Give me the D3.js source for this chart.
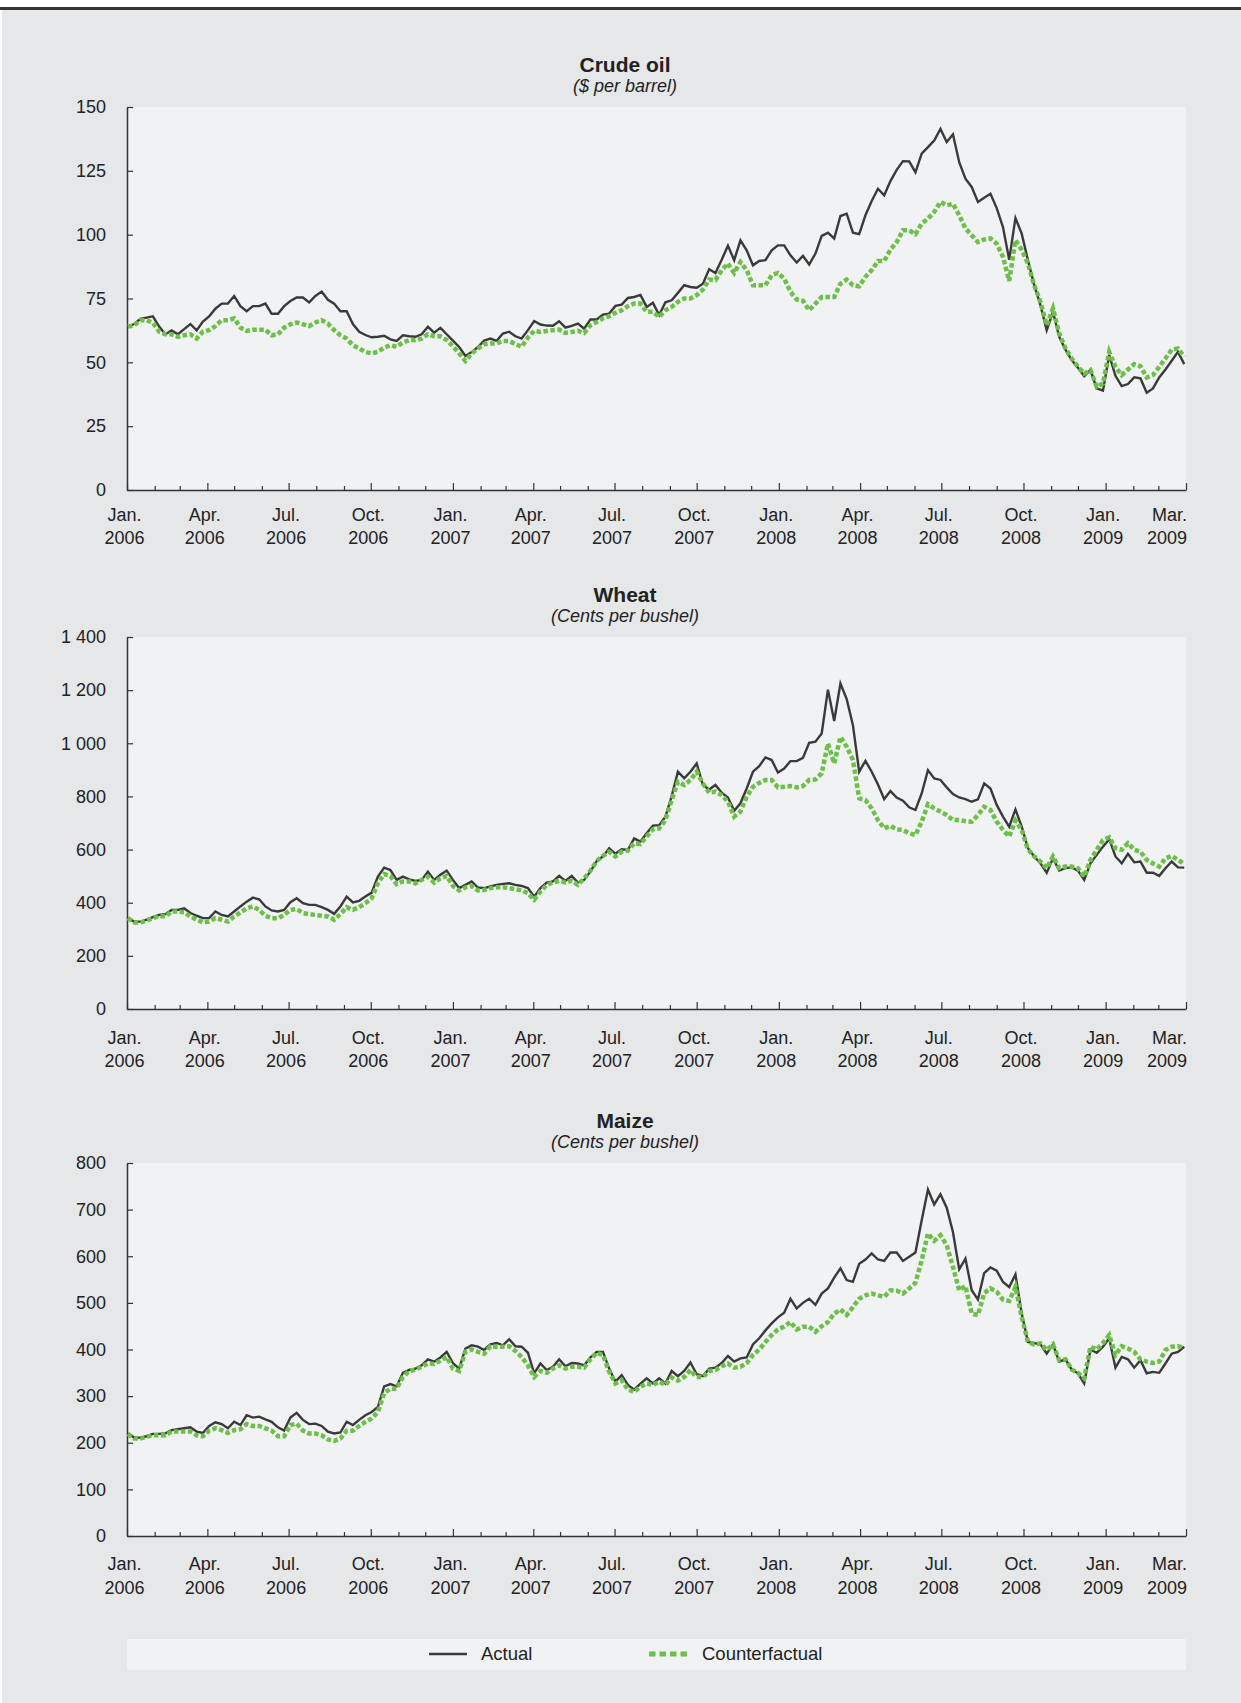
<!DOCTYPE html>
<html>
<head>
<meta charset="utf-8">
<script src="https://cdn.jsdelivr.net/npm/d3@7"></script>
<style>
  html, body { margin: 0; padding: 0; background: #ffffff; }
  svg { display: block; }
  text { font-family: "Liberation Sans", Arial, sans-serif; fill: #222; }
</style>
</head>
<body>
<script>
// ---------------- DATA ----------------
// Weekly observations, first one on 2006-01-02, one week apart.
const firstWeek = "2006-01-02";

const crudeActual = [
  64,65,67,67.5,68,64,61,62.5,61,63,
  65,62.5,66,68,71,73,73,76,72,70,
  72,72,73,69,69,72,74,75.4,75.4,73.5,
  76,77.7,74.5,73,70,70,65,62,60.7,59.8,
  60,60.4,59,58.4,60.6,60.2,60,61,63.9,61.6,
  63.5,61,58.5,56,52.5,54,56,58.5,59.3,58.4,
  61.3,62,60.2,59.3,62.6,66.2,64.8,64.4,64.3,66.1,
  63.6,64.3,65.2,63.2,66.8,66.8,68.7,69.1,72.1,72.6,
  75.2,75.6,76.4,71.7,73.3,68.5,73.5,74.3,77.2,80.2,
  79.5,79.2,80.8,86.5,85,90.2,95.7,90,97.8,93.9,
  88,89.7,90,93.9,95.8,95.8,91.9,89.1,91.7,88.3,
  92.6,99.5,100.8,98.5,107.3,108.2,100.8,100.2,107.6,113.2,
  118,115.4,121,125.4,128.8,128.7,124.4,131.7,134.3,136.9,
  141.4,136.3,139.3,128.4,121.9,118.7,112.8,114.5,116,110.4,
  103,90.2,106.5,100.4,90,80.2,72.4,62.6,69.8,60,
  55,50.9,47.9,44.6,47,39.8,38.9,52.8,44.7,40.7,
  41.5,44.1,43.7,38.1,39.8,44.1,47.2,50.6,54.1,49.3
];
const crudeCounter = [
  64,64.5,66.5,66.5,65.5,62,61,61,60,60.6,
  61,59.3,62,62.6,64.2,66.5,66.5,67.2,63.6,62.3,
  62.8,62.8,62.8,60.6,60.9,63.6,64.9,65.6,64.9,64.2,
  65.6,66.5,65.2,62.6,60.6,59.3,56.7,55.4,54.1,53.5,
  54.1,55.8,56.7,56.1,57.8,58.7,58.7,59.3,61,60.2,
  60.2,58.7,56.3,53.5,50.5,53.5,55.4,57.1,57.4,57.4,
  58.4,58.4,57.1,56.1,59.7,62.3,61.9,62.3,62.6,62.8,
  61.5,61.9,62.3,61.5,64.5,65.8,67.2,68.1,69.4,70.4,
  72,73,73,69.8,69.8,67.8,70.4,71.7,73.7,75,
  75,76.3,78.5,82.4,82.2,86.1,88.7,85,89.3,86.1,
  80.2,80.2,80.2,84.1,85,82.8,77.6,74.6,74.1,70.4,
  73,75.6,75.6,75.6,80.8,82.4,80.2,79.8,83.5,86.1,
  89.7,89.7,94.1,97.1,101.7,101.7,100.2,104.3,106.3,108.9,
  112.8,111.5,112.1,107.6,102.4,99.8,97.1,98.1,98.5,96.5,
  91.3,81.9,97.8,94.1,88.7,80.2,73.7,64.5,71.1,61.3,
  55.4,51.5,48.2,45.6,47,40.4,41.7,54.1,48.2,45,
  47.2,49.3,48.5,44.1,45,48.2,51.5,55,55.4,52.2
];
const wheatActual = [
  342,329,329,336,346,354,357,373,373,379,
  361,351,342,342,367,354,348,367,386,404,
  419,413,386,371,367,373,402,417,398,392,
  392,383,373,358,386,423,401,407,423,438,
  498,532,523,486,498,488,482,486,517,486,
  505,521,486,455,467,480,457,455,461,467,
  471,473,467,463,455,423,455,476,480,501,
  482,501,476,486,517,557,574,605,584,601,
  599,642,630,661,690,692,724,801,893,868,
  893,924,843,826,843,814,796,746,774,830,
  893,914,947,937,890,905,933,933,945,1002,
  1006,1037,1202,1084,1225,1166,1068,893,934,893,
  845,790,820,796,784,759,749,811,899,868,
  862,834,809,796,790,780,789,849,830,768,
  724,686,751,686,605,574,548,513,567,521,
  530,533,521,486,548,580,611,639,574,548,
  584,552,555,513,513,501,530,555,533,532
];
const wheatCounter = [
  342,326,326,333,342,351,348,367,367,364,
  348,336,326,329,342,336,329,348,363,379,
  386,373,351,342,342,354,373,376,361,357,
  354,351,348,336,357,383,373,383,398,417,
  473,508,501,470,480,480,473,486,498,476,
  492,501,463,446,458,463,446,448,455,458,
  458,455,451,446,436,411,442,467,476,483,
  476,483,467,492,521,557,576,592,574,592,
  596,624,621,649,676,680,711,786,855,843,
  862,893,849,814,818,805,780,724,743,799,
  836,851,862,862,834,836,839,834,839,862,
  864,887,999,924,1024,987,937,793,786,755,
  711,680,689,676,674,661,655,705,771,755,
  743,730,711,711,707,705,730,761,749,705,
  674,649,709,674,601,574,555,530,574,530,
  536,536,530,498,561,599,636,646,605,599,
  624,599,592,561,548,536,567,576,561,546
];
const maizeActual = [
  220,211,211,214,219,219,220,227,229,231,
  233,224,221,236,244,240,231,245,238,259,
  254,256,250,245,233,226,254,264,249,240,
  241,236,224,220,222,245,238,249,259,266,
  277,321,326,321,350,356,359,366,379,374,
  383,395,371,359,402,409,406,399,411,414,
  409,422,407,406,393,349,370,356,363,379,
  364,371,370,366,383,395,395,359,331,345,
  324,314,327,338,327,338,327,354,343,354,
  372,347,343,359,361,371,386,374,381,383,
  411,424,441,456,469,479,509,488,500,509,
  496,520,531,554,574,549,545,584,593,606,
  593,590,608,608,590,599,608,677,743,711,
  733,704,652,572,595,527,507,564,576,569,
  545,534,561,477,416,414,411,391,411,374,
  379,357,349,327,400,393,406,424,361,384,
  379,361,377,349,352,350,370,391,395,406
];
const maizeCounter = [
  219,209,209,213,216,216,216,224,224,224,
  224,216,214,226,231,227,221,227,229,240,
  236,236,231,226,214,214,238,241,226,220,
  220,216,207,204,209,226,226,236,245,252,
  266,306,316,316,341,354,357,363,370,369,
  376,384,359,354,395,400,395,391,407,406,
  406,407,397,384,366,341,354,350,359,366,
  359,363,363,361,379,393,388,352,327,334,
  314,309,320,327,324,331,324,340,333,341,
  356,341,341,354,356,364,370,361,363,371,
  388,400,416,431,443,449,459,443,449,449,
  438,450,459,477,486,474,491,509,516,520,
  516,513,527,526,520,531,543,591,649,633,
  645,624,577,527,536,477,474,521,531,524,
  507,504,534,470,416,411,413,399,411,377,
  379,357,350,338,406,400,414,431,388,407,
  402,395,379,374,371,374,399,406,407,404
];

const crudeTicks = [0, 25, 50, 75, 100, 125, 150];
const wheatTicks = [0, 200, 400, 600, 800, 1000, 1200, 1400];
const maizeTicks = [0, 100, 200, 300, 400, 500, 600, 700, 800];

const xTickDates  = ["2006-01","2006-04","2006-07","2006-10","2007-01","2007-04","2007-07","2007-10","2008-01","2008-04","2008-07","2008-10","2009-01","2009-03"];
const xTickMonths = ["Jan.","Apr.","Jul.","Oct.","Jan.","Apr.","Jul.","Oct.","Jan.","Apr.","Jul.","Oct.","Jan.","Mar."];
const xTickYears  = ["2006","2006","2006","2006","2007","2007","2007","2007","2008","2008","2008","2008","2009","2009"];

const titles = ["Crude oil", "Wheat", "Maize"];
const units  = ["($ per barrel)", "(Cents per bushel)", "(Cents per bushel)"];
const seriesNames = ["Actual", "Counterfactual"];
const domainStart = "2006-01-01", domainEnd = "2009-04-01";

// ---------------- LAYOUT ----------------
const W = 1241, H = 1703;
const plotLeft = 127, plotRight = 1186;
const panelBoxes = [
  {top: 107, bottom: 490, lab1: 24.5, lab2: 48},
  {top: 637, bottom: 1009, lab1: 28.5, lab2: 52},
  {top: 1163, bottom: 1536, lab1: 28, lab2: 51.5}
];
const colActual = "#3a3a3a", colCounter = "#6cbf47";
const plotBg = "#f1f2f4", pageBg = "#e6e7e9";
const tickFont = 18;

const parseDay = d3.timeParse("%Y-%m-%d");
const parseMonth = d3.timeParse("%Y-%m");
const start = parseDay(firstWeek);
const dateOf = i => d3.timeDay.offset(start, 7 * i);

const fmt = d3.formatLocale({decimal: ".", thousands: " ", grouping: [3], currency: ["", ""]}).format(",d");

const svg = d3.select("body").append("svg").attr("width", W).attr("height", H);
svg.append("rect").attr("x", 2).attr("y", 10).attr("width", W - 2).attr("height", H - 10).attr("fill", pageBg);
svg.append("rect").attr("x", 0).attr("y", 7).attr("width", W).attr("height", 3).attr("fill", "#333");

const x = d3.scaleTime().domain([parseDay(domainStart), parseDay(domainEnd)]).range([plotLeft, plotRight]);

const panels = [
  {actual: crudeActual, counter: crudeCounter, ticks: crudeTicks},
  {actual: wheatActual, counter: wheatCounter, ticks: wheatTicks},
  {actual: maizeActual, counter: maizeCounter, ticks: maizeTicks}
];

panels.forEach((p, k) => {
  const box = panelBoxes[k];
  const g = svg.append("g");
  const y = d3.scaleLinear().domain([0, d3.max(p.ticks)]).range([box.bottom, box.top]);

  g.append("rect").attr("x", plotLeft).attr("y", box.top)
    .attr("width", plotRight - plotLeft).attr("height", box.bottom - box.top).attr("fill", plotBg);

  // titles
  g.append("text").attr("x", 625).attr("y", box.top - 35.5).attr("text-anchor", "middle")
    .attr("font-size", 21).attr("font-weight", "bold").text(titles[k]);
  g.append("text").attr("x", 625).attr("y", box.top - 15).attr("text-anchor", "middle")
    .attr("font-size", 18).attr("font-style", "italic").text(units[k]);

  // y axis (ticks pointing into the plot)
  const ya = g.append("g").attr("transform", `translate(${plotLeft},0)`)
    .call(d3.axisLeft(y).tickValues(p.ticks).tickFormat(fmt).tickSize(-6).tickSizeOuter(0).tickPadding(21));
  ya.select(".domain").attr("stroke", "#333").attr("stroke-width", 1.5);
  ya.selectAll(".tick line").attr("stroke", "#333").attr("stroke-width", 1.2);
  ya.selectAll(".tick text").attr("font-size", tickFont).attr("fill", "#222")
    .attr("font-family", "Liberation Sans, Arial, sans-serif");

  // x axis (monthly ticks pointing inward)
  const xa = g.append("g").attr("transform", `translate(0,${box.bottom})`)
    .call(d3.axisBottom(x).ticks(d3.timeMonth.every(1)).tickSize(-4).tickSizeOuter(0).tickFormat(""));
  xa.select(".domain").attr("stroke", "#333").attr("stroke-width", 1.5);
  xa.selectAll(".tick line").attr("stroke", "#333").attr("stroke-width", 1.2)
    .attr("y2", d => (d.getMonth() % 3 === 0) ? -7 : -4);

  // x labels
  xTickDates.forEach((ds, j) => {
    const last = j === xTickDates.length - 1;
    const xp = last ? plotRight + 1 : x(parseMonth(ds)) - 2.5;
    const anchor = last ? "end" : "middle";
    g.append("text").attr("x", xp).attr("y", box.bottom + box.lab1).attr("dy", "0.35em")
      .attr("text-anchor", anchor).attr("font-size", tickFont).text(xTickMonths[j]);
    g.append("text").attr("x", xp).attr("y", box.bottom + box.lab2).attr("dy", "0.35em")
      .attr("text-anchor", anchor).attr("font-size", tickFont).text(xTickYears[j]);
  });

  const line = d3.line().x((d, i) => x(dateOf(i))).y(d => y(d));
  g.append("path").datum(p.actual).attr("d", line).attr("fill", "none")
    .attr("stroke", colActual).attr("stroke-width", 2.4).attr("stroke-linejoin", "miter");
  g.append("path").datum(p.counter).attr("d", line).attr("fill", "none")
    .attr("stroke", colCounter).attr("stroke-width", 4.5).attr("stroke-dasharray", "4.5,2.5");
});

// legend
const lg = svg.append("g");
lg.append("rect").attr("x", plotLeft).attr("y", 1639).attr("width", plotRight - plotLeft).attr("height", 31).attr("fill", plotBg);
lg.append("line").attr("x1", 429).attr("x2", 467).attr("y1", 1654).attr("y2", 1654)
  .attr("stroke", colActual).attr("stroke-width", 2.4);
lg.append("text").attr("x", 481).attr("y", 1654).attr("dy", "0.35em").attr("font-size", 18.5).text(seriesNames[0]);
lg.append("line").attr("x1", 649).attr("x2", 687).attr("y1", 1654).attr("y2", 1654)
  .attr("stroke", colCounter).attr("stroke-width", 5).attr("stroke-dasharray", "6.5,4");
lg.append("text").attr("x", 702).attr("y", 1654).attr("dy", "0.35em").attr("font-size", 18.5).text(seriesNames[1]);
</script>
</body>
</html>
